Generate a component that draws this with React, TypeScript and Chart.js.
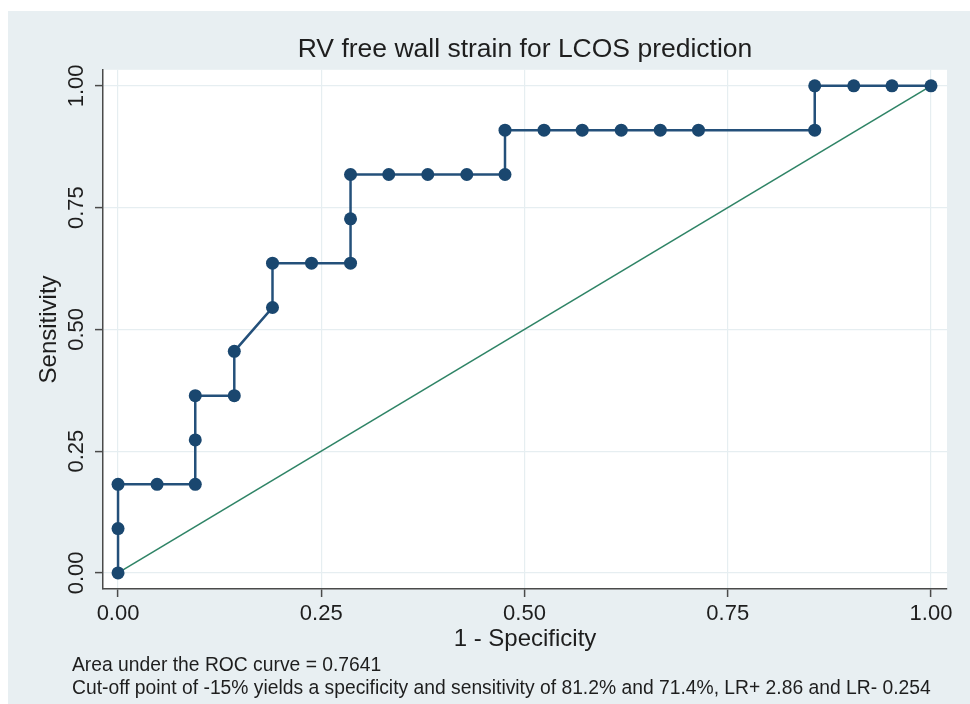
import React, { useEffect, useRef } from "react";
import { Chart, registerables } from "chart.js";

Chart.register(...registerables);

// 1 - Specificity (false positive rate) of each cut-off
const fprValues = [
  0, 0, 0, 0.048, 0.095, 0.095, 0.095, 0.143, 0.143, 0.190, 0.190, 0.238, 0.286, 0.286, 0.286,
  0.333, 0.381, 0.429, 0.476, 0.476, 0.524, 0.571, 0.619, 0.667, 0.714, 0.857, 0.857, 0.905,
  0.952, 1.0,
];
// Sensitivity of each cut-off
const sensValues = [
  0, 0.091, 0.182, 0.182, 0.182, 0.273, 0.364, 0.364, 0.455, 0.545, 0.636, 0.636, 0.636, 0.727,
  0.818, 0.818, 0.818, 0.818, 0.818, 0.909, 0.909, 0.909, 0.909, 0.909, 0.909, 0.909, 1.0, 1.0,
  1.0, 1.0,
];
// Reference (chance) line
const refX = [0, 1];
const refY = [0, 1];

const tickValues = [0, 0.25, 0.5, 0.75, 1];

const titleText = "RV free wall strain for LCOS prediction";
const xTitle = "1 - Specificity";
const yTitle = "Sensitivity";
const noteLines = [
  "Area under the ROC curve = 0.7641",
  "Cut-off point of -15% yields a specificity and sensitivity of 81.2% and 71.4%, LR+ 2.86 and LR- 0.254",
];

const FONT = "'Liberation Sans', Arial, Helvetica, sans-serif";
const BG = "#e8eff2";
const GRID = "#e6eef1";
const AXIS = "#4a4a4a";
const TEXT = "#1e1e1e";
const NAVY = "#1a476f";
const LINE = "#24507a";
const GREEN = "#2f8466";

const bgPlugin = {
  id: "stataBg",
  beforeDraw(chart: any) {
    const { ctx, chartArea: a, width, height } = chart;
    ctx.save();
    ctx.fillStyle = "#ffffff";
    ctx.fillRect(0, 0, width, height);
    ctx.fillStyle = BG;
    ctx.fillRect(8, 11, width - 8, height - 11);
    ctx.fillStyle = "#ffffff";
    ctx.fillRect(a.left, a.top, a.right - a.left, a.bottom - a.top);
    ctx.restore();
  },
  afterDraw(chart: any) {
    const { ctx } = chart;
    ctx.save();
    ctx.fillStyle = TEXT;
    ctx.font = `19.3px ${FONT}`;
    ctx.textAlign = "left";
    ctx.textBaseline = "middle";
    ctx.fillText(noteLines[0], 72, 666);
    ctx.fillText(noteLines[1], 72, 689);
    ctx.restore();
  },
};

export default function App() {
  const ref = useRef<HTMLCanvasElement | null>(null);

  useEffect(() => {
    if (!ref.current) return;
    const setTicks = (scale: any) => {
      scale.ticks = tickValues.map((v) => ({ value: v }));
    };
    const chart = new Chart(ref.current, {
      type: "scatter",
      data: {
        datasets: [
          {
            label: "ROC",
            data: fprValues.map((x, i) => ({ x, y: sensValues[i] })),
            showLine: true,
            borderColor: LINE,
            backgroundColor: NAVY,
            borderWidth: 2.5,
            pointRadius: 6.5,
            pointBorderWidth: 0,
            pointBackgroundColor: NAVY,
          },
          {
            label: "Reference",
            data: refX.map((x, i) => ({ x, y: refY[i] })),
            showLine: true,
            borderColor: GREEN,
            borderWidth: 1.6,
            pointRadius: 0,
          },
        ],
      },
      options: {
        responsive: false,
        animation: false,
        events: [],
        layout: { padding: { left: 0, right: 23, top: 0, bottom: 0 } },
        plugins: {
          legend: { display: false },
          tooltip: { enabled: false },
          title: {
            display: true,
            text: titleText,
            fullSize: false,
            color: TEXT,
            font: { family: FONT, size: 26.5, weight: "normal" },
            padding: { top: 34, bottom: 4 },
          },
        },
        scales: {
          x: {
            type: "linear",
            min: -0.0185,
            max: 1.0197,
            afterBuildTicks: setTicks,
            afterFit: (s: any) => {
              s.height = 115;
            },
            grid: {
              color: GRID,
              lineWidth: 1.2,
              drawTicks: true,
              tickLength: 8,
              tickColor: AXIS,
              tickWidth: 1.5,
            },
            border: { display: true, color: AXIS, width: 1.5 },
            ticks: {
              color: TEXT,
              padding: 4,
              maxRotation: 0,
              minRotation: 0,
              font: { family: FONT, size: 22 },
              callback: (v: any) => Number(v).toFixed(2),
            },
            title: {
              display: true,
              text: xTitle,
              color: TEXT,
              font: { family: FONT, size: 24 },
              padding: { top: 0, bottom: 50 },
            },
          },
          y: {
            type: "linear",
            min: -0.033,
            max: 1.033,
            afterBuildTicks: setTicks,
            afterFit: (s: any) => {
              s.width = 103;
            },
            grid: {
              color: GRID,
              lineWidth: 1.2,
              drawTicks: true,
              tickLength: 8,
              tickColor: AXIS,
              tickWidth: 1.5,
            },
            border: { display: true, color: AXIS, width: 1.5 },
            ticks: {
              color: TEXT,
              padding: -3,
              minRotation: 90,
              maxRotation: 90,
              crossAlign: "center",
              font: { family: FONT, size: 22 },
              callback: (v: any) => Number(v).toFixed(2),
            },
            title: {
              display: true,
              text: yTitle,
              color: TEXT,
              font: { family: FONT, size: 24 },
              padding: { top: 35, bottom: 0 },
            },
          },
        },
      },
      plugins: [bgPlugin],
    } as any);
    return () => chart.destroy();
  }, []);

  return (
    <div style={{ position: "fixed", left: 0, top: 0, width: 970, height: 704 }}>
      <canvas ref={ref} width={970} height={704} style={{ width: 970, height: 704, display: "block" }} />
    </div>
  );
}
